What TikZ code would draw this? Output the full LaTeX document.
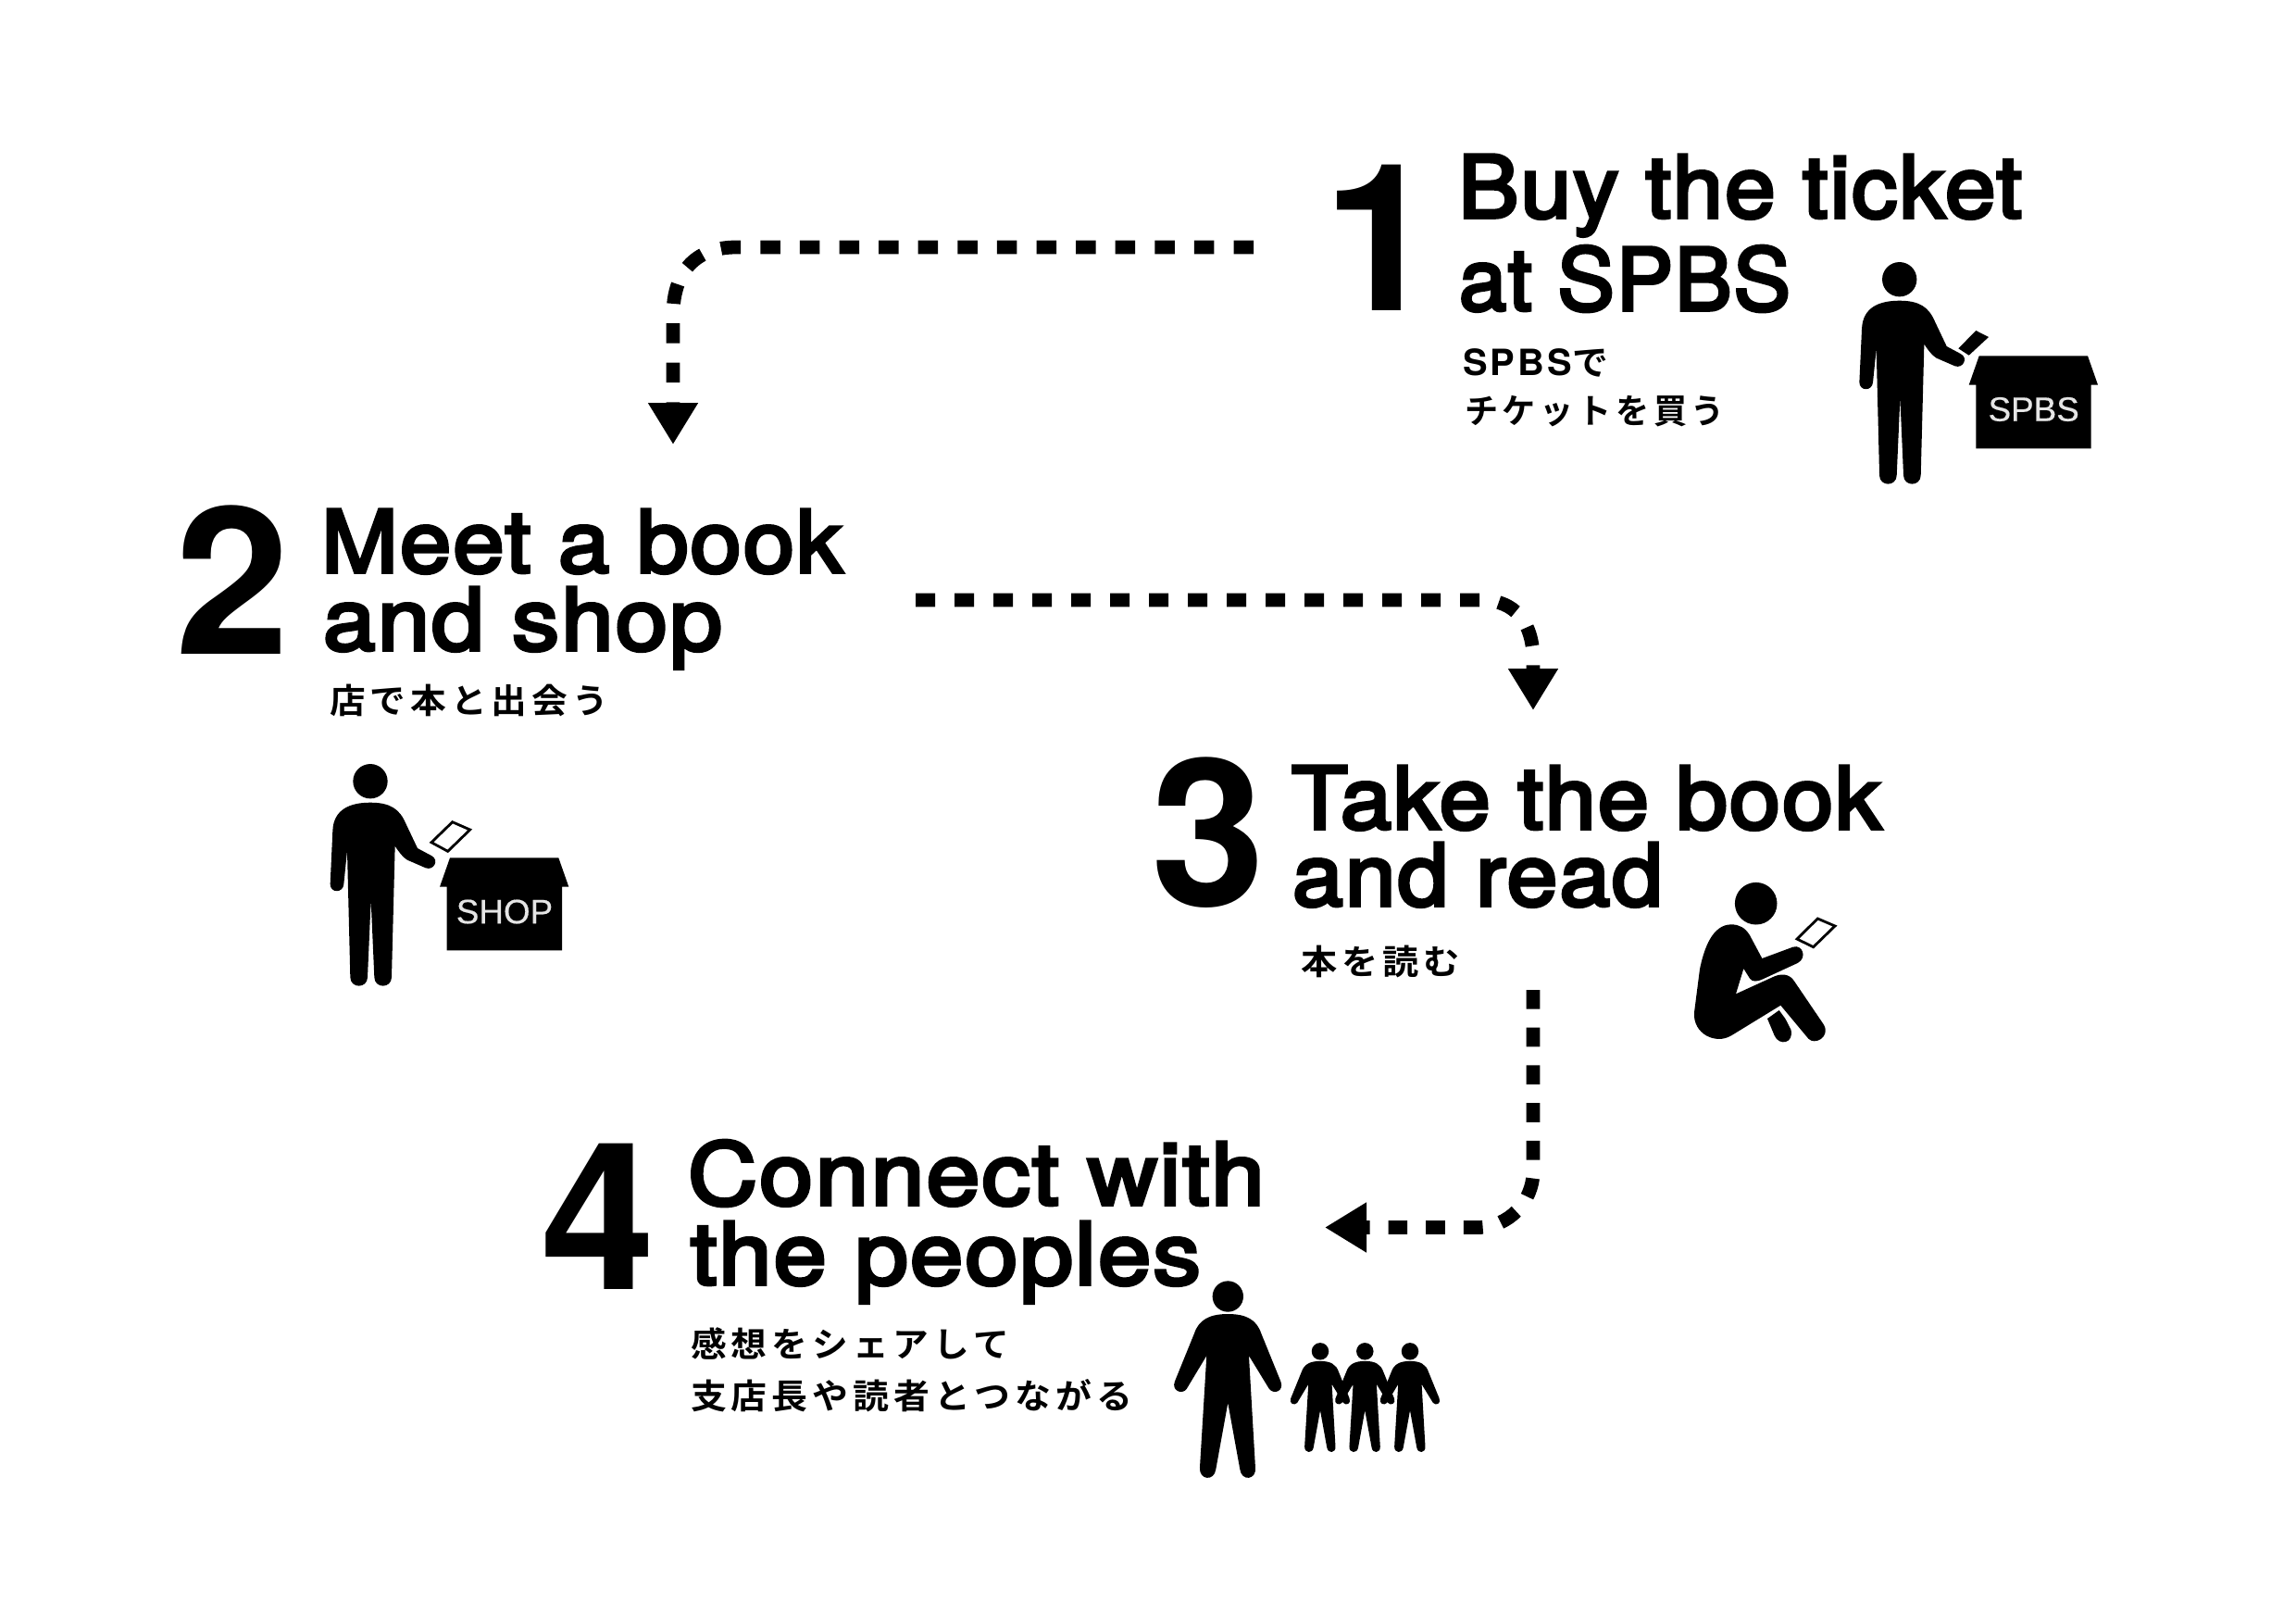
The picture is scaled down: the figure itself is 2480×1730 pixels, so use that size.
\documentclass[tikz,border=0pt]{standalone}
\usepackage{fontspec}
\usepackage{graphicx}
\usetikzlibrary{arrows.meta}
\setmainfont{TeX Gyre Heros}
\newfontfamily\hd{TeX Gyre Heros}
\newfontfamily\hdm[FakeBold=3.8,LetterSpace=2]{TeX Gyre Heros}
\newfontfamily\lbl[FakeBold=0.4]{Liberation Sans}
\newfontfamily\lat[LetterSpace=8]{TeX Gyre Heros}
\newfontfamily\jp[LetterSpace=13]{Noto Sans CJK JP Bold}
\newbox\fitbox
\newcommand\fitw[2]{\setbox\fitbox\hbox{#2}\edef\fitn{\the\wd\fitbox}\pgfmathsetmacro\fitr{#1*0.5/\fitn}\scalebox{\fitr}[1]{\box\fitbox}}
\newcommand\hl[2]{\fitw{#1}{\hdm\fontsize{46.6}{50}\selectfont #2}}
\newcommand\dg[1]{\hd\bfseries\fontsize{111}{114}\selectfont #1}
\newcommand\jl[2]{\fitw{#1}{\jp\fontsize{18.5}{20}\selectfont #2}}
\tikzset{
  txt/.style={anchor=base west,inner sep=0pt,outer sep=0pt},
  digit/.style={anchor=base,inner sep=0pt,outer sep=0pt},
  boxlabel/.style={anchor=center,inner sep=0pt,text=black!10,font=\lbl\fontsize{18.4}{20}\selectfont},
  flowhead/.style={line width=7.4pt,-{Triangle[length=22.5pt,width=25.5pt]}},
  icon/.style={fill=black,draw=none},
  cardline/.style={draw=black,line width=1.4pt,fill=white,line join=miter}
}
\newcommand\standfig[2]{%
 \begin{scope}[shift={(#1,#2)},scale=0.33333,shift={(-305,-125)}]
  \fill[icon] (305,125) circle[radius=28pt];
  \fill[icon] (305,194) .. controls (240,194) and (186,215) .. (183,285) -- (175,458)
   .. controls (175,488) and (217,488) .. (219,458) -- (230,350) -- (240,760)
   .. controls (241,797) and (295,797) .. (296,760) -- (307,510) -- (318,760)
   .. controls (319,797) and (373,797) .. (374,760) -- (385,335)
   .. controls (395,350) and (410,372) .. (425,380) -- (485,406)
   .. controls (510,415) and (530,380) .. (503,366) -- (458,342) -- (420,262)
   .. controls (400,215) and (370,194) .. (305,194) -- cycle;
  \fill[icon] (563,373) -- (915,373) -- (948,467) -- (926,467) -- (926,673) -- (553,673) -- (553,467) -- (530,467) -- cycle;
 \end{scope}}
\newcommand\openfig[3]{%
 \begin{scope}[shift={(#1,#2)},scale=#3,shift={(-229,-90)}]
  \fill[icon] (229,90) circle[radius=25pt];
  \fill[icon] (229,147) .. controls (170,147) and (135,165) .. (120,210) -- (57,365)
   .. controls (45,395) and (80,410) .. (95,390) -- (160,282) -- (138,645)
   .. controls (135,685) and (185,690) .. (190,650) -- (229,435) -- (268,650)
   .. controls (273,690) and (322,685) .. (318,645) -- (297,282) -- (363,390)
   .. controls (380,410) and (412,395) .. (400,365) -- (337,210)
   .. controls (322,165) and (288,147) .. (229,147) -- cycle;
 \end{scope}}
\begin{document}
\begin{tikzpicture}[x=0.5pt,y=-0.5pt]
\useasboundingbox (0,0) rectangle (2480,1730);
\fill[white] (0,0) rectangle (2480,1730);

% step headings
\node[digit] (n1) at (1491,335) {\dg{1}};
\node[txt] (t1a) at (1575,235) {\hl{609}{Buy the ticket}};
\node[txt] (t1b) at (1576,335) {\hl{358}{at SPBS}};
\node[txt] (j1a) at (1580,405) {\fitw{157}{{\lat\bfseries\fontsize{19.5}{20}\selectfont SPBS}{\jp\fontsize{19}{20}\selectfont で}}};
\node[txt] (j1b) at (1582,457) {\jl{281}{チケットを買う}};

\node[digit] (n2) at (251,706) {\dg{2}};
\node[txt] (t2a) at (347,618) {\hl{563}{Meet a book}};
\node[txt] (t2b) at (349,702) {\hl{431}{and shop}};
\node[txt] (j2a) at (356,770) {\jl{301}{店で本と出会う}};

\node[digit] (n3) at (1305,978) {\dg{3}};
\node[txt] (t3a) at (1395,895) {\hl{637}{Take the book}};
\node[txt] (t3b) at (1396,978) {\hl{400}{and read}};
\node[txt] (j3a) at (1405,1052) {\jl{172}{本を読む}};

\node[digit] (n4) at (646,1392) {\dg{4}};
\node[txt] (t4a) at (743,1301) {\hl{623}{Connect with}};
\node[txt] (t4b) at (746,1387) {\hl{551}{the peoples}};
\node[txt] (j4a) at (746,1465) {\jl{344}{感想をシェアして}};
\node[txt] (j4b) at (746,1521) {\jl{477}{支店長や読者とつながる}};

% flow connectors
\coordinate (a1s) at (1354,267);
\coordinate (a1p) at (795,267);
\coordinate (a1q) at (727,340);
\coordinate (a1e) at (727,480);
\draw[flowhead,dash pattern=on 10.75pt off 10.55pt] (a1s) -- (a1p) .. controls (750,267) and (727,295) .. (a1q) -- (a1e);

\coordinate (a2s) at (989,648);
\coordinate (a2p) at (1600,648);
\coordinate (a2q) at (1656,712);
\coordinate (a2e) at (1656,767);
\draw[flowhead,dash pattern=on 10.5pt off 10.5pt] (a2s) -- (a2p) .. controls (1636,648) and (1656,672) .. (a2q) -- (a2e);

\coordinate (a3s) at (1656,1069);
\coordinate (a3p) at (1656,1265);
\coordinate (a3q) at (1596,1325.5);
\coordinate (a3e) at (1431,1325.5);
\draw[flowhead,dash pattern=on 10.35pt off 10pt] (a3s) -- (a3p) .. controls (1656,1298) and (1629,1325.5) .. (a3q) -- (a3e);

% step 1 figure
\standfig{2051.7}{301.7}
\fill[icon] (2134.3,357) -- (2148,364) -- (2126.7,383.7) -- (2115.3,376.3) -- cycle;
\node[boxlabel] (b1) at (2196.7,442) {SPBS};

% step 2 figure
\standfig{400}{843.7}
\draw[cardline] (488.7,887.7) -- (507.7,896) -- (483.7,919.3) -- (466,909.7) -- cycle;
\node[boxlabel] (b2) at (545,984.5) {SHOP};

% step 3 figure
\fill[icon] (1896.7,975.7) circle[radius=11.4pt];
\begin{scope}[shift={(1800,930)},scale=0.33333]
 \fill[icon] (210,205) .. controls (150,205) and (122,280) .. (108,350) -- (90,490)
  .. controls (85,560) and (160,595) .. (210,565) -- (370,467) -- (460,575)
  .. controls (480,597) and (532,570) .. (510,530) -- (415,390)
  .. controls (398,362) and (370,365) .. (350,373) -- (225,430) -- (250,348) -- (270,380)
  .. controls (278,392) and (295,390) .. (310,383) -- (425,330)
  .. controls (458,312) and (440,268) .. (410,278) -- (310,315) -- (270,240)
  .. controls (255,215) and (235,205) .. (210,205) -- cycle;
 \fill[icon] (327,510) -- (365,483) -- (385,510) -- (403,545)
  .. controls (415,590) and (365,600) .. (350,565) -- cycle;
 \draw[cardline] (490,186) -- (546,210) -- (476,278) -- (423,252) -- cycle;
\end{scope}

% step 4 figures
\openfig{1326.3}{1400}{0.33333}
\openfig{1426}{1459.3}{0.18500}
\openfig{1474.3}{1459.3}{0.18500}
\openfig{1523}{1459.3}{0.18500}
\end{tikzpicture}
\end{document}
